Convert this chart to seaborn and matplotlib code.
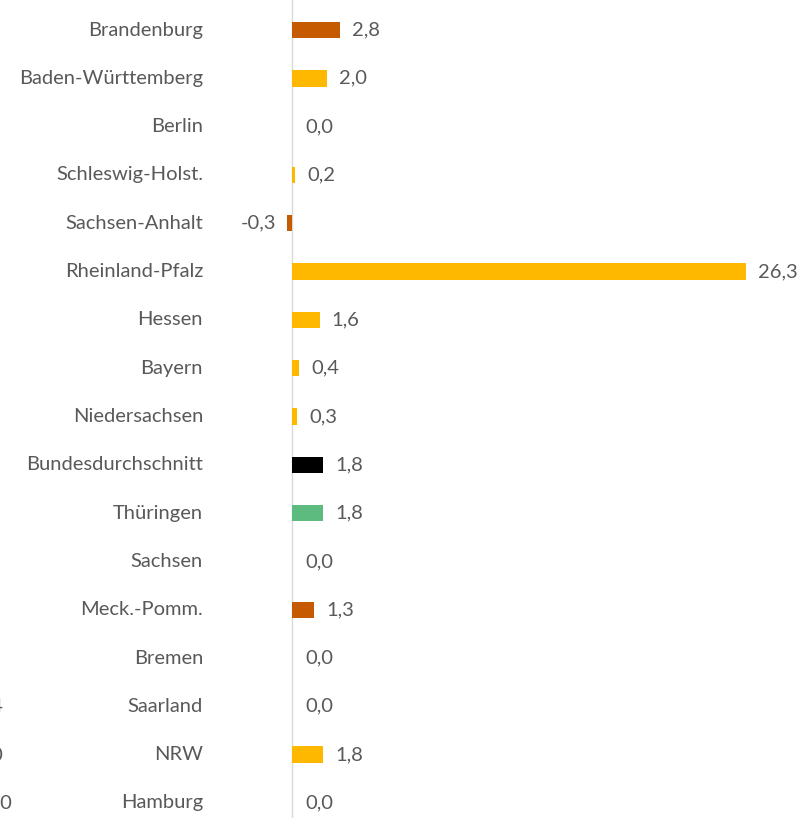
import numpy as np
import pandas as pd
import matplotlib
matplotlib.use("Agg")
import matplotlib.pyplot as plt
import seaborn as sns

states = ["Brandenburg", "Baden-Württemberg", "Berlin", "Schleswig-Holst.",
          "Sachsen-Anhalt", "Rheinland-Pfalz", "Hessen", "Bayern",
          "Niedersachsen", "Bundesdurchschnitt", "Thüringen", "Sachsen",
          "Meck.-Pomm.", "Bremen", "Saarland", "NRW", "Hamburg"]
values = [2.8, 2.0, 0.0, 0.2, -0.3, 26.3, 1.6, 0.4, 0.3, 1.8, 1.8, 0.0,
          1.3, 0.0, 0.0, 1.8, 0.0]
colors = ["#c55a00", "#ffb800", "#ffb800", "#ffb800", "#c55a00", "#ffb800",
          "#ffb800", "#ffb800", "#ffb800", "#000000", "#5dbb80", "#ffb800",
          "#c55a00", "#ffb800", "#ffb800", "#ffb800", "#ffb800"]
# fragments of a neighbouring panel cut off at the left edge
edge_rows = ["Saarland", "NRW", "Hamburg"]
edge_texts = ["0,4", "1,0", "1,0"]

df = pd.DataFrame({"state": states, "value": values})

sns.set_style("white")
plt.rcParams["font.family"] = ["Lato", "DejaVu Sans"]

W, H = 805, 818
fig = plt.figure(figsize=(W / 100, H / 100), dpi=100)
ax = fig.add_axes([0, 0, 1, 1])

zero_px, px_per_unit = 292, 17.26
row0_px, row_step = 30, 48.3

sns.barplot(data=df, x="value", y="state", hue="state", palette=colors,
            legend=False, width=0.34, orient="h", ax=ax, saturation=1,
            linewidth=0)

ax.set_xlim(-zero_px / px_per_unit, (W - zero_px) / px_per_unit)
ax.set_ylim(16 + (H - 803) / row_step, -row0_px / row_step)
ax.axvline(0, color="#d9d9d9", lw=1, zorder=0)
for s in ax.spines.values():
    s.set_visible(False)
ax.set_xticks([])
ax.set_yticks([])
ax.set_xlabel("")
ax.set_ylabel("")

txt = "#595959"
fs = 14.5
label_x = (203 - zero_px) / px_per_unit
gap = 12 / px_per_unit
for i, (name, v) in enumerate(zip(states, values)):
    ax.text(label_x, i, name, ha="right", va="center", fontsize=fs, color=txt)
    lab = f"{v:.1f}".replace(".", ",")
    if v < 0:
        ax.text(v - gap + 0.1, i, lab, ha="right", va="center", fontsize=fs, color=txt)
    elif v == 0:
        ax.text(13 / px_per_unit, i, lab, ha="left", va="center", fontsize=fs, color=txt)
    else:
        ax.text(v + gap, i, lab, ha="left", va="center", fontsize=fs, color=txt)

edge_right = [3, 3, 12]
for name, t, r in zip(edge_rows, edge_texts, edge_right):
    i = states.index(name)
    ax.text((r - zero_px) / px_per_unit, i, t, ha="right", va="center",
            fontsize=fs, color=txt)

fig.savefig("out.png", dpi=100)
